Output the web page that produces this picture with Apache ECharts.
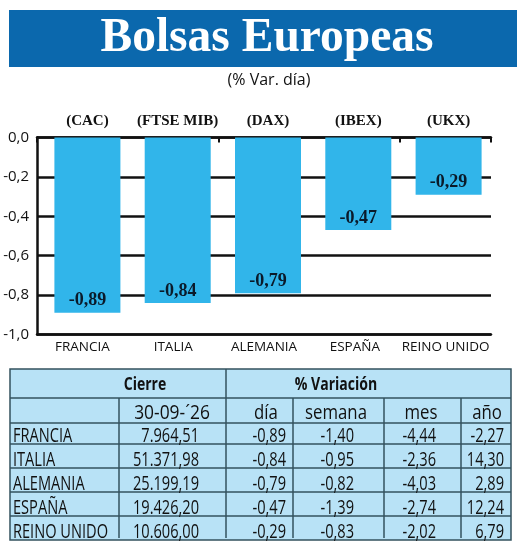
<!DOCTYPE html>
<html>
<head>
<meta charset="utf-8">
<style>html,body{margin:0;padding:0;background:#fff}#chart{width:520px;height:547px}</style>
<script src="https://cdn.jsdelivr.net/npm/echarts@6/dist/echarts.min.js"></script>
</head>
<body>
<div id="chart"></div>
<script>
// datos
var countries = ["FRANCIA", "ITALIA", "ALEMANIA", "ESPAÑA", "REINO UNIDO"];
var indices = ["(CAC)", "(FTSE MIB)", "(DAX)", "(IBEX)", "(UKX)"];
var dayChange = [-0.89, -0.84, -0.79, -0.47, -0.29];
var closeValues = ["7.964,51", "51.371,98", "25.199,19", "19.426,20", "10.606,00"];
var dayValues = ["-0,89", "-0,84", "-0,79", "-0,47", "-0,29"];
var weekValues = ["-1,40", "-0,95", "-0,82", "-1,39", "-0,83"];
var monthValues = ["-4,44", "-2,36", "-4,03", "-2,74", "-2,02"];
var yearValues = ["-2,27", "14,30", "2,89", "12,24", "6,79"];
var tableHeaders = ["día", "semana", "mes", "año"];

var myChart = echarts.init(document.getElementById("chart"));

var sansFont = "'Open Sans'";
var serifFont = "'Liberation Serif'";
var lineColor = "#33525e";
var black = "#111";

// tabla y cabecera
var graphics = [
  { type: "rect", shape: { x: 9, y: 10, width: 508, height: 57 }, style: { fill: "#0b68ad" } },
  { type: "text", x: 267, y: 39, style: { text: "Bolsas Europeas", fill: "#fff", font: "bold 47.5px " + serifFont, align: "center", verticalAlign: "middle" } },
  { type: "text", x: 269, y: 80, style: { text: "(% Var. día)", fill: black, font: "16px " + sansFont, align: "center", verticalAlign: "middle" } },
  { type: "rect", shape: { x: 10, y: 369, width: 501, height: 171 }, style: { fill: "#b8e2f6", stroke: lineColor, lineWidth: 1.5 } }
];

function hLine(x1, x2, y) {
  graphics.push({ type: "line", shape: { x1: x1, y1: y, x2: x2, y2: y }, style: { stroke: lineColor, lineWidth: 1.5 } });
}
function vLine(x, y1, y2) {
  graphics.push({ type: "line", shape: { x1: x, y1: y1, x2: x, y2: y2 }, style: { stroke: lineColor, lineWidth: 1.5 } });
}
// texto condensado: Open Sans comprimido en horizontal
function cell(text, x, y, align, font, squeeze) {
  graphics.push({ type: "text", x: x, y: y, z: 5, scaleX: squeeze, style: { text: text, fill: black, font: font, align: align, verticalAlign: "middle" } });
}

var rowLines = [398, 423, 444, 468, 492, 516];
rowLines.forEach(function (y) { hLine(10, 511, y); });
vLine(226, 369, 538);
vLine(119, 398, 538);
vLine(293, 398, 538);
vLine(384, 398, 538);
vLine(461, 398, 538);

var boldFont = "bold 18px " + sansFont;
var bodyFont = "20px " + sansFont;
cell("Cierre", 145, 385, "center", boldFont, 0.78);
cell("% Variación", 336, 385, "center", boldFont, 0.78);
cell("30-09-´26", 172, 413, "center", bodyFont, 0.87);
var headerCenters = [266, 336, 421, 487];
tableHeaders.forEach(function (h, i) {
  cell(h, headerCenters[i], 413, "center", bodyFont, 0.84);
});

var columns = [closeValues, dayValues, weekValues, monthValues, yearValues];
var columnRight = [199, 286, 354, 436, 504];
countries.forEach(function (name, r) {
  var y = 436.5 + r * 24;
  cell(name, 13, y, "left", bodyFont, 0.73);
  columns.forEach(function (col, c) {
    cell(col[r], columnRight[c], y, "right", bodyFont, 0.73);
  });
});

var yScale = { min: -1, max: 0, interval: 0.2 };

option = {
  animation: false,
  graphic: graphics,
  grid: [
    { left: 37, top: 137.5, width: 454, height: 197 },
    { left: 42.25, top: 137.5, width: 451.5, height: 197 }
  ],
  xAxis: [
    {
      gridIndex: 0, type: "category", position: "bottom", data: countries,
      axisLine: { show: true, onZero: false, lineStyle: { color: black, width: 2.5 } },
      axisTick: { show: false },
      axisLabel: { interval: 0, color: black, fontFamily: sansFont, fontSize: 13.5, margin: 6 }
    },
    {
      gridIndex: 0, type: "category", position: "top", data: countries,
      axisLine: { show: true, onZero: false, lineStyle: { color: black, width: 2.5 } },
      axisTick: { show: true, inside: true, length: 5, lineStyle: { color: black, width: 2 } },
      axisLabel: { show: false }
    },
    {
      gridIndex: 1, type: "category", position: "top", data: indices,
      axisLine: { show: false }, axisTick: { show: false },
      axisLabel: { interval: 0, color: black, fontFamily: serifFont, fontWeight: "bold", fontSize: 15, margin: 9 }
    }
  ],
  yAxis: [
    {
      gridIndex: 0, type: "value", min: yScale.min, max: yScale.max, interval: yScale.interval,
      axisLine: { show: true, onZero: false, lineStyle: { color: black, width: 2.5 } },
      axisTick: { show: false },
      splitLine: { show: true, lineStyle: { color: black, width: 2.5 } },
      axisLabel: {
        color: black, fontFamily: sansFont, fontSize: 15, margin: 8,
        formatter: function (v) { return v.toFixed(1).replace(".", ","); }
      }
    },
    {
      gridIndex: 1, type: "value", min: yScale.min, max: yScale.max, interval: yScale.interval,
      show: false
    }
  ],
  series: [
    {
      type: "bar",
      xAxisIndex: 2,
      yAxisIndex: 1,
      data: dayChange,
      barWidth: 66,
      itemStyle: { color: "#31b5ea" },
      label: {
        show: true, position: "insideBottom", distance: 3,
        color: "#0a1a2a", fontFamily: serifFont, fontWeight: "bold", fontSize: 18,
        formatter: function (p) { return p.value.toFixed(2).replace(".", ","); }
      }
    }
  ]
};

myChart.setOption(option);
</script>
</body>
</html>
